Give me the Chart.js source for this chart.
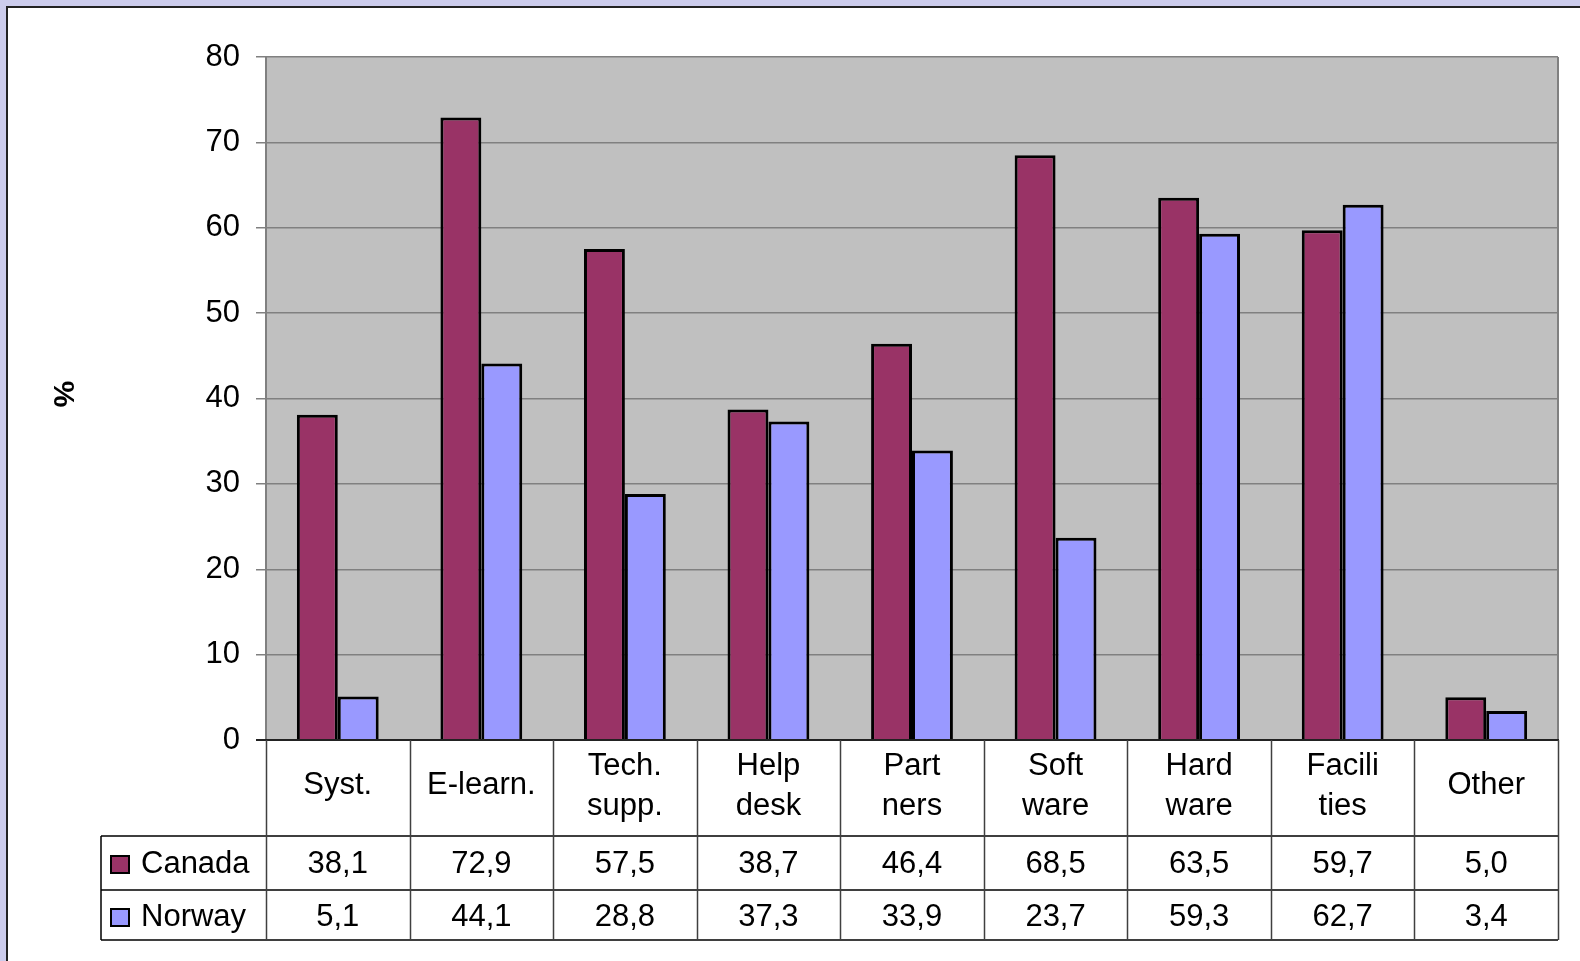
<!DOCTYPE html>
<html>
<head>
<meta charset="utf-8">
<script src="https://cdn.jsdelivr.net/npm/chart.js@4/dist/chart.umd.min.js"></script>
<style>
  html, body { margin: 0; padding: 0; background: #ccccec; overflow: hidden; }
  #frame { position: absolute; left: 6px; top: 6px; right: 0; bottom: 0; background: #fff;
           border-left: 2px solid #222; border-top: 2px solid #222; }
  #chart { position: absolute; left: 0; top: 0; }
</style>
</head>
<body>
<div id="frame"></div>
<canvas id="chart" width="1580" height="961"></canvas>
<script>
// data
const categories = ["Syst.", "E-learn.", ["Tech.", "supp."], ["Help", "desk"], ["Part", "ners"],
  ["Soft", "ware"], ["Hard", "ware"], ["Facili", "ties"], "Other"];
const canada = [38.1, 72.9, 57.5, 38.7, 46.4, 68.5, 63.5, 59.7, 5.0];
const norway = [5.1, 44.1, 28.8, 37.3, 33.9, 23.7, 59.3, 62.7, 3.4];
const seriesNames = ["Canada", "Norway"];
const seriesColors = ["#993366", "#9999ff"];
const yTicks = [0, 10, 20, 30, 40, 50, 60, 70, 80];

const FONT = "31px 'Liberation Sans', Arial, sans-serif";

function fmt(v) {
  return v.toFixed(1).replace(".", ",");
}

// grey plot background + border
const plotBg = {
  id: "plotBg",
  beforeDraw(chart) {
    const { ctx, chartArea: a } = chart;
    ctx.save();
    ctx.fillStyle = "#c0c0c0";
    ctx.fillRect(a.left, a.top, a.right - a.left, a.bottom - a.top);
    ctx.restore();
  },
  afterDatasetsDraw(chart) {
    const { ctx, chartArea: a } = chart;
    ctx.save();
    ctx.strokeStyle = "#808080";
    ctx.lineWidth = 2;
    ctx.beginPath();
    ctx.moveTo(a.right, a.top);
    ctx.lineTo(a.right, a.bottom);
    ctx.stroke();
    ctx.strokeStyle = "#222";
    ctx.beginPath();
    ctx.moveTo(a.left - 10, a.bottom);
    ctx.lineTo(a.right + 1, a.bottom);
    ctx.stroke();
    ctx.restore();
  }
};

// data table under the plot, with legend keys
const dataTable = {
  id: "dataTable",
  afterDraw(chart) {
    const { ctx, chartArea: a } = chart;
    const x = chart.scales.x;
    const n = categories.length;
    const colW = (a.right - a.left) / n;
    const top = a.bottom, row1 = 836, row2 = 890, bottom = 940, tableLeft = 101;

    ctx.save();
    ctx.lineWidth = 1.5;
    ctx.strokeStyle = "#000";
    ctx.beginPath();
    // horizontal lines
    ctx.moveTo(tableLeft, row1); ctx.lineTo(a.right, row1);
    ctx.moveTo(tableLeft, row2); ctx.lineTo(a.right, row2);
    ctx.moveTo(tableLeft, bottom); ctx.lineTo(a.right, bottom);
    ctx.moveTo(tableLeft, row1); ctx.lineTo(tableLeft, bottom);
    ctx.stroke();
    ctx.strokeStyle = "#404040";
    ctx.beginPath();
    for (let i = 0; i <= n; i++) {
      const px = Math.round(a.left + i * colW) + 0.5;
      ctx.moveTo(px, top);
      ctx.lineTo(px, bottom);
    }
    ctx.stroke();

    ctx.fillStyle = "#000";
    ctx.font = FONT;
    ctx.textAlign = "center";
    ctx.textBaseline = "middle";
    categories.forEach((c, i) => {
      const cx = x.getPixelForValue(i);
      if (Array.isArray(c)) {
        ctx.fillText(c[0], cx, 766);
        ctx.fillText(c[1], cx, 806);
      } else {
        ctx.fillText(c, cx, 785);
      }
      ctx.fillText(fmt(canada[i]), cx, 864);
      ctx.fillText(fmt(norway[i]), cx, 917);
    });

    // legend keys + series names
    const rowsY = [864, 917];
    ctx.textAlign = "left";
    seriesNames.forEach((name, k) => {
      ctx.fillStyle = seriesColors[k];
      ctx.fillRect(111, rowsY[k] - 8, 18, 17);
      ctx.strokeStyle = "#000";
      ctx.lineWidth = 2;
      ctx.strokeRect(111, rowsY[k] - 8, 18, 17);
      ctx.fillStyle = "#000";
      ctx.fillText(name, 141, rowsY[k]);
    });

    // y axis title
    ctx.translate(62, 394);
    ctx.rotate(Math.PI / 2);
    ctx.font = "bold 30px 'Liberation Sans', Arial, sans-serif";
    ctx.textAlign = "center";
    ctx.fillText("%", 0, 0);
    ctx.restore();
  }
};

new Chart(document.getElementById("chart").getContext("2d"), {
  type: "bar",
  data: {
    labels: categories,
    datasets: [
      { label: seriesNames[0], data: canada, backgroundColor: seriesColors[0], borderColor: "#000", borderWidth: 3 },
      { label: seriesNames[1], data: norway, backgroundColor: seriesColors[1], borderColor: "#000", borderWidth: 3 }
    ]
  },
  options: {
    responsive: false,
    animation: false,
    devicePixelRatio: 1,
    categoryPercentage: 0.57,
    barPercentage: 1,
    layout: { padding: { left: 0, top: 57, right: 22, bottom: 221 } },
    plugins: { legend: { display: false }, tooltip: { enabled: false } },
    scales: {
      x: { display: false },
      y: {
        min: 0,
        max: 80,
        afterFit(s) { s.width = 266; },
        afterBuildTicks(s) { s.ticks = yTicks.map(v => ({ value: v })); },
        border: { color: "#808080", width: 2 },
        grid: { color: "#808080", lineWidth: 1.5, tickLength: 10 },
        ticks: { color: "#000", padding: 16, font: { family: "'Liberation Sans', Arial, sans-serif", size: 31 } }
      }
    }
  },
  plugins: [plotBg, dataTable]
});
</script>
</body>
</html>
